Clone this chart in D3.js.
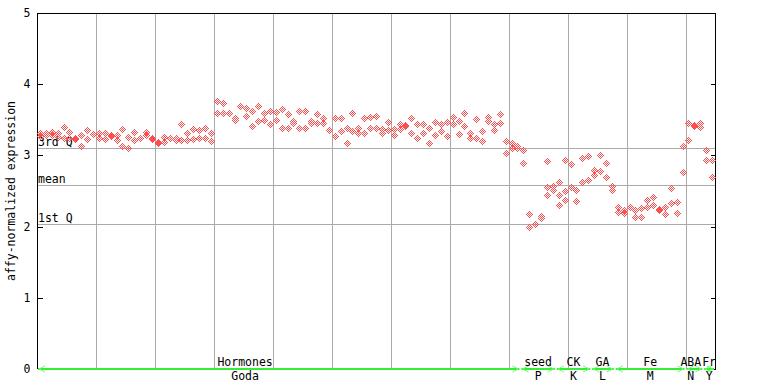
<!DOCTYPE html>
<html><head><meta charset="utf-8">
<script src="https://cdn.jsdelivr.net/npm/d3@7"></script>
<style>
body{margin:0;background:#fff}
svg{display:block}
text{font-family:"DejaVu Sans Mono","Liberation Mono",monospace;font-size:11.5px;fill:#000}
</style>
</head><body>
<svg id="chart" width="768" height="384"></svg>
<script>
// ---- data ----
const rep1 = [3.32,3.32,3.33,3.32,3.40,3.33,3.24,3.29,3.36,3.30,
              3.31,3.32,3.29,3.28,3.37,3.26,3.33,3.25,3.33,3.24,
              3.17,3.26,3.25,3.24,3.44,3.31,3.37,3.35,3.39,3.31,
              3.76,3.73,3.60,3.53,3.70,3.66,3.63,3.70,3.59,3.62,
              3.61,3.65,3.58,3.49,3.62,3.63,3.48,3.58,3.52,3.35,
              3.52,3.53,3.38,3.59,3.38,3.52,3.54,3.55,3.37,3.47,
              3.37,3.44,3.42,3.52,3.44,3.44,3.39,3.47,3.44,3.47,
              3.54,3.48,3.59,3.31,3.51,3.34,3.54,3.44,3.58,3.20,
              3.18,3.13,3.07,2.17,2.04,2.15,2.92,2.57,2.62,2.93,
              2.88,2.52,2.97,2.99,2.80,3.00,2.89,2.57,2.27,2.23,
              2.28,2.23,2.26,2.38,2.41,2.25,2.28,2.54,2.34,3.13,
              3.46,3.42,3.45,3.07,2.93];
const rep2 = [3.27,3.28,3.29,3.26,3.25,3.25,3.23,3.13,3.23,3.30,
              3.24,3.23,3.27,3.22,3.13,3.11,3.21,3.24,3.29,3.23,
              3.19,3.19,3.24,3.22,3.22,3.22,3.23,3.25,3.25,3.20,
              3.59,3.60,3.59,3.50,3.69,3.56,3.41,3.48,3.50,3.44,
              3.50,3.39,3.38,3.45,3.39,3.39,3.45,3.46,3.45,3.36,
              3.27,3.34,3.17,3.34,3.31,3.32,3.39,3.39,3.31,3.35,
              3.28,3.37,3.41,3.32,3.25,3.32,3.18,3.28,3.34,3.27,
              3.44,3.30,3.41,3.25,3.24,3.20,3.48,3.35,3.45,3.04,
              3.10,3.10,2.90,1.99,2.03,2.12,2.55,2.51,2.44,2.50,
              2.55,2.36,2.62,2.66,2.72,2.78,2.69,2.51,2.20,2.19,
              2.27,2.14,2.13,2.28,2.30,2.24,2.17,2.33,2.19,2.77,
              3.21,3.41,3.40,2.94,2.70];
// third replicate only where it is visible
const rep3 = [];
rep3[86] = 2.45; rep3[88] = 2.30; rep3[89] = 2.38;

const yTicks = [0, 1, 2, 3, 4, 5];
const refNames = ["3rd Q", "mean", "1st Q"];
const refValues = [3.104, 2.584, 2.037];
const groupTop = ["Hormones", "seed", "CK", "GA", "Fe", "ABA", "Fr"];
const groupBottom = ["Goda", "P", "K", "L", "M", "N", "Y"];
const groupStart = [0, 82, 88, 94, 98, 110, 113];
const groupEnd = [82, 88, 94, 98, 110, 113, 115];
const groupLabelAt = [35.3, 85.0, 91.0, 95.9, 104.0, 110.9, 114.0];
const nSamples = rep1.length;

// ---- layout ----
const L = 37, R = 715, T = 13, B = 369;
const svg = d3.select("#chart");
const x = d3.scaleLinear().domain([0, nSamples]).range([L, R]);
const y = d3.scaleLinear().domain([0, 5]).range([B, T]);
const px = v => Math.round(v) + 0.5;

// vertical grid every 10 samples
svg.append("g").selectAll("line")
  .data(d3.range(10, nSamples, 10))
  .join("line")
  .attr("x1", d => px(x(d))).attr("x2", d => px(x(d)))
  .attr("y1", T).attr("y2", B)
  .attr("stroke", "#aaaaaa").attr("stroke-width", 1)
  .attr("shape-rendering", "crispEdges");

// reference lines
const refs = refNames.map((n, i) => ({name: n, v: refValues[i]}));
const rg = svg.append("g");
rg.selectAll("line").data(refs).join("line")
  .attr("x1", L).attr("x2", R)
  .attr("y1", d => px(y(d.v))).attr("y2", d => px(y(d.v)))
  .attr("stroke", "#aaaaaa").attr("stroke-width", 1)
  .attr("shape-rendering", "crispEdges");
rg.selectAll("text").data(refs).join("text")
  .attr("x", L + 1).attr("y", d => Math.round(y(d.v)) - 2)
  .text(d => d.name);

// frame
svg.append("path")
  .attr("d", `M${L+0.5},${B} V${T+0.5} H${R+0.5} V${B}`)
  .attr("fill", "none").attr("stroke", "#000").attr("stroke-width", 1)
  .attr("shape-rendering", "crispEdges");

// axes (ticks pointing inward)
const yl = svg.append("g").attr("transform", `translate(${L+0.5},0)`)
  .call(d3.axisLeft(y).tickValues(yTicks).tickFormat(d3.format("d"))
        .tickSizeInner(-5).tickSizeOuter(0).tickPadding(7));
yl.select(".domain").remove();
yl.selectAll("line").attr("stroke", "#000").attr("shape-rendering", "crispEdges");
yl.selectAll("text").attr("font-size", null).attr("font-family", null);
const yr = svg.append("g").attr("transform", `translate(${R+0.5},0)`)
  .call(d3.axisRight(y).tickValues(yTicks).tickFormat("")
        .tickSizeInner(-5).tickSizeOuter(0));
yr.select(".domain").remove();
yr.selectAll("line").attr("stroke", "#000").attr("shape-rendering", "crispEdges");
yl.selectAll(".tick").attr("transform", d => `translate(0,${px(y(d))})`);
yr.selectAll(".tick").attr("transform", d => `translate(0,${px(y(d))})`);

svg.append("text")
  .attr("transform", `translate(15,191) rotate(-90)`)
  .attr("text-anchor", "middle")
  .text("affy-normalized expression");

// points: checkered diamonds
const offsets = [];
for (let dx = -3; dx <= 3; dx++)
  for (let dy = -3; dy <= 3; dy++)
    if (Math.abs(dx) + Math.abs(dy) <= 3 && Math.abs(dx + dy) % 2 === 1) offsets.push([dx, dy]);
const pts = [];
[rep1, rep2, rep3].forEach(arr => arr.forEach((v, i) => {
  if (v != null) pts.push({i, v});
}));
svg.append("g").selectAll("path").data(pts).join("path")
  .attr("d", d => {
    const cx = Math.round(x(d.i + 0.5)), cy = Math.round(y(d.v));
    return offsets.map(([dx, dy]) => `M${cx + dx},${cy + dy}h1v1h-1z`).join("");
  })
  .attr("fill", "#ff4d4d")
  .attr("shape-rendering", "crispEdges");

// category bar at the bottom
const groups = groupTop.map((t, k) => ({top: t, bottom: groupBottom[k],
  s: groupStart[k], e: groupEnd[k], at: groupLabelAt[k]}));
const gg = svg.append("g");
gg.selectAll("line.seg").data(groups).join("line").attr("class", "seg")
  .attr("x1", d => x(d.s) + 1).attr("x2", d => x(d.e) - 1)
  .attr("y1", B).attr("y2", B)
  .attr("stroke", "#33ee33").attr("stroke-width", 2);
gg.selectAll("path.la").data(groups).join("path").attr("class", "la")
  .attr("d", d => { const a = x(d.s) + 2; return `M${a+6},${B-3} L${a},${B} L${a+6},${B+3}`; })
  .attr("fill", "none").attr("stroke", "#66ff66").attr("stroke-width", 1);
gg.selectAll("path.ra").data(groups).join("path").attr("class", "ra")
  .attr("d", d => { const a = x(d.e) - 2; return `M${a-6},${B-3} L${a},${B} L${a-6},${B+3}`; })
  .attr("fill", "none").attr("stroke", "#66ff66").attr("stroke-width", 1);
gg.selectAll("text.top").data(groups).join("text").attr("class", "top")
  .attr("x", d => x(d.at)).attr("y", B - 3)
  .attr("text-anchor", "middle").text(d => d.top);
gg.selectAll("text.bot").data(groups).join("text").attr("class", "bot")
  .attr("x", d => x(d.at)).attr("y", B + 11)
  .attr("text-anchor", "middle").text(d => d.bottom);
</script>
</body></html>
